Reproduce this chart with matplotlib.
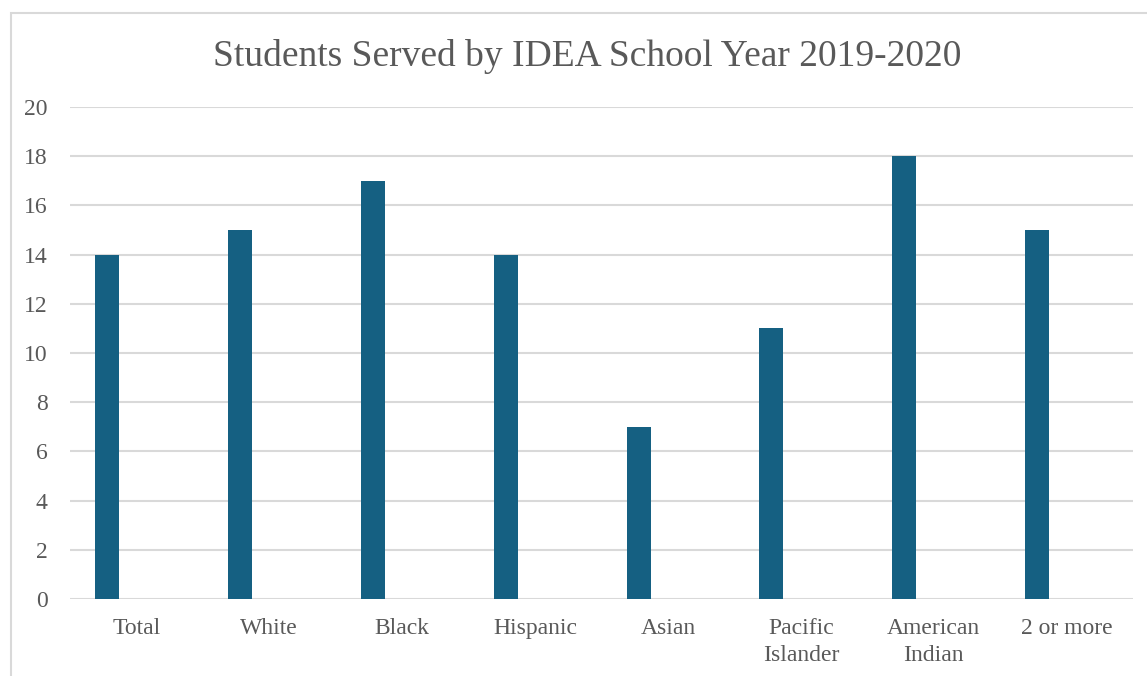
import numpy as np
import matplotlib.pyplot as plt
from matplotlib.patches import Rectangle

categories = ['Total', 'White', 'Black', 'Hispanic', 'Asian',
              'Pacific\nIslander', 'American\nIndian', '2 or more']
values = [14, 15, 17, 14, 7, 11, 18, 15]

plt.rcParams['font.family'] = ['Liberation Serif', 'DejaVu Serif']
text_color = '#595959'
grid_color = '#d9d9d9'
bar_color = '#156082'

W, H = 1147, 676
fig = plt.figure(figsize=(W / 100, H / 100), dpi=100)
ax = fig.add_axes([70 / W, 1 - 599 / H, (1133 - 70) / W, (599 - 107) / H])

x = np.arange(len(categories))
ax.bar(x - 0.221, values, width=0.18, color=bar_color, zorder=3)

ax.set_xlim(-0.5, len(categories) - 0.5)
ax.set_ylim(0, 20)
ax.set_yticks(np.arange(0, 21, 2))
ax.set_xticks(x)
ax.set_xticklabels(categories, linespacing=1.35)
ax.yaxis.grid(True, color=grid_color, lw=1.5, zorder=0)
ax.tick_params(axis='both', length=0, labelsize=17, colors=text_color)
ax.tick_params(axis='y', pad=16)
ax.tick_params(axis='x', pad=14)
for s in ax.spines.values():
    s.set_visible(False)

fig.text(0.5 * (211 + 963) / W, 1 - 56 / H, 'Students Served by IDEA School Year 2019-2020',
         ha='center', va='center', fontsize=27, color=text_color)

# chart frame
fig.patches.append(Rectangle((11 / W, -0.1), 1.2, 1 - 13 / H + 0.1,
                             transform=fig.transFigure, fill=False,
                             edgecolor=grid_color, lw=1.5))

fig.savefig('out.png', dpi=100)
